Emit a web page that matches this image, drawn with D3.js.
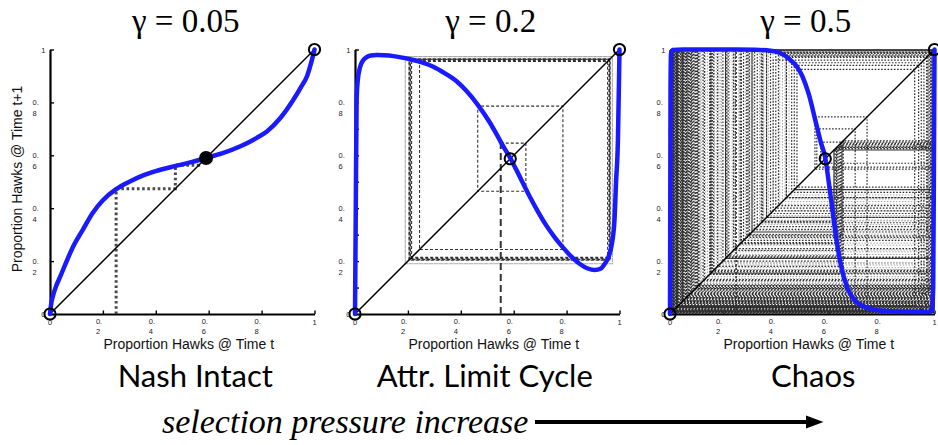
<!DOCTYPE html>
<html>
<head>
<meta charset="utf-8">
<script src="https://cdn.jsdelivr.net/npm/d3@7"></script>
<style>
  body { margin: 0; background: #fff; }
  svg { display: block; }
  .serif { font-family: "Liberation Serif", "Times New Roman", Times, serif; }
  .sans { font-family: "Liberation Sans", Arial, Helvetica, sans-serif; }
  .humanist { font-family: Lato, "Open Sans", sans-serif; }
</style>
</head>
<body>
<div id="chart"></div>
<script>
// ---- data ----
const titles = ["γ = 0.05", "γ = 0.2", "γ = 0.5"];
const regimeLabels = ["Nash Intact", "Attr. Limit Cycle", "Chaos"];
const xAxisLabel = "Proportion Hawks @ Time t";
const yAxisLabel = "Proportion Hawks @ Time t+1";
const bottomNote = "selection pressure increase";

const tickValues = [0, 0.2, 0.4, 0.6, 0.8, 1];
const tickLabels = ["0", "0.\n2", "0.\n4", "0.\n6", "0.\n8", "1"];
const fineTicks = [0, 0.1, 0.2, 0.3, 0.4, 0.5, 0.6, 0.7, 0.8, 0.9, 1];

// map curves (x = proportion at t, y = proportion at t+1)
const nashX = [0, 0.004, 0.013, 0.025, 0.038, 0.063, 0.09, 0.125, 0.16, 0.2, 0.25, 0.3, 0.35, 0.4, 0.467, 0.53, 0.59, 0.65, 0.72, 0.78, 0.82, 0.87, 0.92, 0.95, 0.972, 0.99, 1];
const nashY = [0, 0.035, 0.075, 0.11, 0.14, 0.2, 0.26, 0.32, 0.38, 0.43, 0.472, 0.5, 0.523, 0.54, 0.558, 0.573, 0.59, 0.607, 0.634, 0.665, 0.69, 0.74, 0.81, 0.86, 0.9, 0.96, 1];

const cycleX = [0, 0.003, 0.006, 0.01, 0.019, 0.03, 0.044, 0.06, 0.082, 0.11, 0.145, 0.208, 0.25, 0.296, 0.34, 0.384, 0.42, 0.465, 0.509, 0.535, 0.56, 0.588, 0.61, 0.63, 0.66, 0.69, 0.723, 0.755, 0.786, 0.82, 0.849, 0.88, 0.906, 0.93, 0.943, 0.958, 0.969, 0.981, 0.987, 0.994, 0.998, 1];
const cycleY = [0, 0.4, 0.8, 0.88, 0.933, 0.958, 0.971, 0.977, 0.979, 0.978, 0.975, 0.963, 0.952, 0.935, 0.91, 0.88, 0.845, 0.79, 0.725, 0.68, 0.635, 0.588, 0.545, 0.505, 0.445, 0.39, 0.335, 0.29, 0.252, 0.215, 0.19, 0.172, 0.166, 0.172, 0.188, 0.215, 0.254, 0.355, 0.5, 0.657, 0.88, 1];

const chaosX = [0, 0.001, 0.002, 0.004, 0.01, 0.05, 0.15, 0.25, 0.32, 0.38, 0.42, 0.45, 0.48, 0.5, 0.525, 0.55, 0.57, 0.587, 0.6, 0.612, 0.625, 0.645, 0.67, 0.7, 0.75, 0.8, 0.9, 0.97, 0.99, 0.995, 0.998, 1];
const chaosY = [0, 0.4, 0.85, 0.985, 0.998, 1, 1, 1, 0.999, 0.995, 0.985, 0.965, 0.935, 0.9, 0.83, 0.73, 0.65, 0.59, 0.5, 0.41, 0.31, 0.19, 0.1, 0.05, 0.022, 0.012, 0.008, 0.008, 0.01, 0.1, 0.6, 1];

// successive iterates traced by the cobwebs
const nashOrbit = [0.25, 0.474, 0.562, 0.583, 0.589, 0.59];
const cycleOrbit = [0.551, 0.646, 0.464, 0.786, 0.244, 0.955, 0.214, 0.96, 0.21, 0.962, 0.207, 0.963, 0.205, 0.964, 0.204, 0.965, 0.203];
const cycleOrbitFaint = [0.19, 0.973, 0.19, 0.973, 0.19];
const chaosOrbit = [0.25, 0.999,
  0.004, 0.998, 0.012, 0.999, 0.62, 0.35, 0.997, 0.02, 0.999, 0.047, 0.998, 0.63, 0.27, 0.999,
  0.006, 0.998, 0.067, 0.999, 0.44, 0.97, 0.016, 0.999, 0.09, 0.998, 0.152, 0.999, 0.028, 0.998,
  0.64, 0.22, 0.999, 0.034, 0.999, 0.555, 0.70, 0.05, 0.998, 0.31, 0.999, 0.074, 0.998, 0.01, 0.999,
  0.47, 0.94, 0.008, 0.998, 0.107, 0.999, 0.655, 0.15, 0.999, 0.04, 0.998, 0.278, 0.999, 0.054, 0.998,
  0.365, 0.99, 0.024, 0.999, 0.125, 0.998, 0.06, 0.999, 0.548, 0.745, 0.025, 0.998, 0.21, 0.999,
  0.082, 0.998, 0.625, 0.31, 0.999, 0.014, 0.998, 0.33, 0.999, 0.1, 0.998, 0.4, 0.985, 0.002, 0.999,
  0.165, 0.998, 0.044, 0.999, 0.48, 0.925, 0.032, 0.998, 0.63, 0.265, 0.999, 0.078, 0.998, 0.215, 0.999,
  0.018, 0.998, 0.57, 0.65, 0.3, 0.999, 0.058, 0.998, 0.41, 0.98, 0.086, 0.999, 0.247, 0.998, 0.13, 0.999,
  0.038, 0.998, 0.62, 0.345, 0.999, 0.064, 0.998, 0.16, 0.999, 0.026, 0.998, 0.38, 0.99, 0.095, 0.999,
  0.32, 0.998, 0.07, 0.999, 0.46, 0.95, 0.012, 0.998, 0.655, 0.155, 0.999, 0.05, 0.998, 0.345, 0.999,
  0.645, 0.2, 0.999, 0.11, 0.998, 0.635, 0.24, 0.999, 0.03, 0.998, 0.65, 0.18, 0.999, 0.097, 0.998,
  0.29, 0.999, 0.046, 0.998, 0.155, 0.999, 0.39, 0.96, 0.062, 0.998, 0.295, 0.999, 0.022, 0.998,
  0.44, 0.975, 0.08, 0.999, 0.21, 0.998, 0.005, 0.999, 0.365, 0.998, 0.104, 0.999, 0.03, 0.998, 0.47];
const chaosOrbitFaint = [0.105, 0.999, 0.115, 0.998, 0.135, 0.999, 0.142, 0.998, 0.175, 0.999, 0.185, 0.998,
  0.195, 0.999, 0.225, 0.998, 0.235, 0.999, 0.26, 0.998, 0.268, 0.999, 0.285, 0.998, 0.302, 0.999,
  0.315, 0.998, 0.338, 0.999, 0.355, 0.998, 0.372, 0.999, 0.39, 0.995, 0.425, 0.99, 0.435, 0.985,
  0.45, 0.975, 0.052, 0.999, 0.072, 0.998, 0.092, 0.999, 0.003, 0.998, 0.009, 0.999, 0.017, 0.998,
  0.043, 0.999, 0.118, 0.998, 0.168, 0.999, 0.19, 0.998, 0.242, 0.999, 0.352, 0.998, 0.415, 0.99, 0.03];

const fixedPoints = [0.59, 0.587, 0.587];

// ---- drawing ----
const BLUE = '#1a1aff';

class CobwebPanel {

    constructor(_config, _data) {
        this.config = {
            parentElement: _config.parentElement,
            left: _config.left,
            top: 49.5,
            size: 264.5,
            title: _config.title,
            regime: _config.regime,
            regimeDx: _config.regimeDx || 0,
            showYLabel: _config.showYLabel || false,
            yTicks: _config.yTicks || tickValues,
            yLabelDx: _config.yLabelDx,
            filledFixed: _config.filledFixed || false
        }
        this.data = _data;
        this.initVis();
    }

    initVis() {
        let vis = this;
        const size = vis.config.size;

        vis.chart = vis.config.parentElement.append('g')
            .attr('transform', `translate(${vis.config.left},${vis.config.top})`);

        vis.xScale = d3.scaleLinear().domain([0, 1]).range([0, size]);
        vis.yScale = d3.scaleLinear().domain([0, 1]).range([size, 0]);

        // axes with inward ticks, labels drawn separately (they wrap onto two lines)
        vis.chart.append('g')
            .attr('class', 'axis x-axis')
            .attr('transform', `translate(0,${size})`)
            .call(d3.axisBottom(vis.xScale).tickValues(tickValues).tickSize(-3.5).tickSizeOuter(0).tickFormat(''));

        vis.chart.append('g')
            .attr('class', 'axis y-axis')
            .call(d3.axisLeft(vis.yScale).tickValues(vis.config.yTicks).tickSize(-4).tickSizeOuter(0).tickFormat(''));

        vis.chart.selectAll('.axis path').attr('stroke', '#000').attr('stroke-width', 2.2);
        vis.chart.selectAll('.axis line').attr('stroke', '#000').attr('stroke-width', 1.4);

        vis.renderTickLabels();

        // cobweb iterations
        vis.data.orbits.forEach(o => vis.drawOrbit(o));

        // identity line
        vis.chart.append('line')
            .attr('x1', vis.xScale(0)).attr('y1', vis.yScale(0))
            .attr('x2', vis.xScale(1)).attr('y2', vis.yScale(1))
            .attr('stroke', '#000')
            .attr('stroke-width', 1.5);

        // map curve
        const points = vis.data.curveX.map((x, i) => [x, vis.data.curveY[i]]);
        const line = d3.line()
            .x(d => vis.xScale(d[0]))
            .y(d => vis.yScale(d[1]))
            .curve(d3.curveMonotoneX);
        vis.chart.append('path')
            .attr('d', line(points))
            .attr('fill', 'none')
            .attr('stroke', BLUE)
            .attr('stroke-width', 4.5)
            .attr('stroke-linejoin', 'round')
            .attr('stroke-linecap', 'round');

        // equilibria
        const eq = [
            {v: 0, filled: false},
            {v: 1, filled: false},
            {v: vis.data.fixed, filled: vis.config.filledFixed}
        ];
        vis.chart.selectAll('.eq')
            .data(eq)
            .join('circle')
            .attr('class', 'eq')
            .attr('cx', d => vis.xScale(d.v))
            .attr('cy', d => vis.yScale(d.v))
            .attr('r', d => d.filled ? 6 : 5.6)
            .attr('fill', d => d.filled ? '#000' : 'none')
            .attr('stroke', '#000')
            .attr('stroke-width', 2);

        // titles
        vis.chart.append('text')
            .attr('class', 'serif')
            .attr('x', size / 2 + 3.5)
            .attr('y', 32 - vis.config.top)
            .attr('text-anchor', 'middle')
            .style('font-size', '33px')
            .text(vis.config.title);

        vis.chart.append('text')
            .attr('class', 'sans')
            .attr('x', size / 2 + 6.5)
            .attr('y', 348.5 - vis.config.top)
            .attr('text-anchor', 'middle')
            .style('font-size', '14px')
            .attr('fill', '#111')
            .text(xAxisLabel);

        vis.chart.append('text')
            .attr('class', 'humanist')
            .attr('x', size / 2 + vis.config.regimeDx)
            .attr('y', 387 - vis.config.top)
            .attr('text-anchor', 'middle')
            .style('font-size', '31px')
            .text(vis.config.regime);

        if (vis.config.showYLabel) {
            vis.chart.append('text')
                .attr('class', 'sans')
                .attr('transform', `translate(${22 - vis.config.left},${179 - vis.config.top}) rotate(-90)`)
                .attr('text-anchor', 'middle')
                .style('font-size', '14px')
                .attr('fill', '#111')
                .text(yAxisLabel);
        }
    }

    renderTickLabels() {
        let vis = this;
        const size = vis.config.size;
        const ticks = tickValues.map((v, i) => ({v: v, lines: tickLabels[i].split('\n')}));

        // bottom labels
        vis.chart.selectAll('.x-tick-label')
            .data(ticks)
            .join('text')
            .attr('class', 'x-tick-label sans')
            .style('font-size', '7.5px')
            .attr('fill', '#222')
            .each(function(d) {
                const t = d3.select(this);
                if (d.lines.length === 1) {
                    t.attr('text-anchor', 'middle')
                        .attr('x', vis.xScale(d.v))
                        .attr('y', size + 10.5)
                        .text(d.lines[0]);
                } else {
                    t.selectAll('tspan')
                        .data(d.lines)
                        .join('tspan')
                        .attr('x', vis.xScale(d.v) - 7)
                        .attr('y', (s, j) => size + 10.3 + j * 10)
                        .text(s => s);
                }
            });

        // left labels
        vis.chart.selectAll('.y-tick-label')
            .data(ticks)
            .join('text')
            .attr('class', 'y-tick-label sans')
            .style('font-size', '7.5px')
            .attr('fill', '#222')
            .each(function(d) {
                const t = d3.select(this);
                if (d.lines.length === 1) {
                    t.attr('text-anchor', 'end')
                        .attr('x', -4.5)
                        .attr('y', vis.yScale(d.v) + 3)
                        .text(d.lines[0]);
                } else {
                    t.selectAll('tspan')
                        .data(d.lines)
                        .join('tspan')
                        .attr('x', vis.config.yLabelDx)
                        .attr('y', (s, j) => vis.yScale(d.v) + 2.7 + j * 11)
                        .text(s => s);
                }
            });
    }

    // vertical to the curve, horizontal to the diagonal, repeat
    drawOrbit(o) {
        let vis = this;
        const xs = o.values;
        const line = d3.line().x(d => vis.xScale(d[0])).y(d => vis.yScale(d[1]));

        let pts = [[xs[0], xs[0]]];
        let start = 0;
        if (o.lead) {
            vis.chart.append('path')
                .attr('d', line([[xs[0], 0], [xs[0], xs[1]]]))
                .attr('fill', 'none')
                .attr('stroke', o.lead.color)
                .attr('stroke-width', o.lead.width)
                .attr('stroke-dasharray', o.lead.dash);
            pts = [[xs[0], xs[1]], [xs[1], xs[1]]];
            start = 1;
        }
        for (let i = start; i < xs.length - 1; i++) {
            pts.push([xs[i], xs[i + 1]]);
            pts.push([xs[i + 1], xs[i + 1]]);
        }

        vis.chart.append('path')
            .attr('d', line(pts))
            .attr('fill', 'none')
            .attr('stroke', o.color)
            .attr('stroke-width', o.width)
            .attr('stroke-dasharray', o.dash);
    }
}

const svg = d3.select('#chart').append('svg')
    .attr('width', 938)
    .attr('height', 445);

const dotBold = {color: '#4a4a4a', width: 3, dash: '2.6,2.6'};

new CobwebPanel({
    parentElement: svg, left: 50, title: titles[0], regime: regimeLabels[0],
    regimeDx: 13, showYLabel: true, yLabelDx: -17.5, filledFixed: true
}, {
    curveX: nashX, curveY: nashY, fixed: fixedPoints[0],
    orbits: [Object.assign({values: nashOrbit, lead: dotBold}, dotBold)]
});

new CobwebPanel({
    parentElement: svg, left: 355, title: titles[1], regime: regimeLabels[1],
    regimeDx: -2.5, yTicks: fineTicks, yLabelDx: -16.5
}, {
    curveX: cycleX, curveY: cycleY, fixed: fixedPoints[1],
    orbits: [
        {values: cycleOrbitFaint, color: '#aaa', width: 1.1, dash: '3,2'},
        {values: cycleOrbit, color: '#333', width: 1.1, dash: '3,2',
         lead: {color: '#333', width: 2, dash: '7,4'}}
    ]
});

new CobwebPanel({
    parentElement: svg, left: 670, title: titles[2], regime: regimeLabels[2],
    regimeDx: 11, yLabelDx: -13.5
}, {
    curveX: chaosX, curveY: chaosY, fixed: fixedPoints[2],
    orbits: [
        {values: chaosOrbitFaint, color: '#a5a5a5', width: 1, dash: '1.5,1.5'},
        {values: chaosOrbit, color: '#2e2e2e', width: 1.2, dash: '1.6,1.6',
         lead: {color: '#444', width: 1.8, dash: '2,2'}}
    ]
});

// caption with arrow
svg.append('text')
    .attr('class', 'serif')
    .attr('x', 162)
    .attr('y', 433)
    .style('font-style', 'italic')
    .style('font-size', '34px')
    .text(bottomNote);

svg.append('line')
    .attr('x1', 535).attr('y1', 422)
    .attr('x2', 810).attr('y2', 422)
    .attr('stroke', '#000')
    .attr('stroke-width', 4);

svg.append('path')
    .attr('d', 'M806,415.5 L823.5,422 L806,428.5 Z')
    .attr('fill', '#000');
</script>
</body>
</html>
